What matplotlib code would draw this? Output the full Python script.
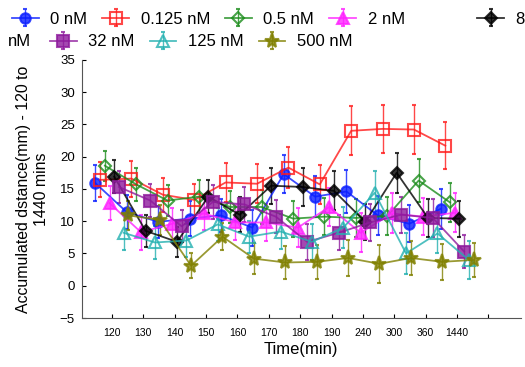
import matplotlib.pyplot as plt
import numpy as np

plt.rcParams['font.family'] = ['Liberation Sans', 'DejaVu Sans']

times = ['120', '130', '140', '150', '160', '170', '180', '190', '240', '300', '360', '1440']

labels = ['0 nM', '0.125 nM', '0.5 nM', '2 nM', '8 nM', '32 nM', '125 nM', '500 nM']

nm0 = [15.9, 11.4, 9.9, 10.4, 10.9, 9.0, 17.3, 13.8, 14.6, 10.9, 9.6, 11.9]
nm0125 = [16.4, 16.6, 14.1, 13.3, 16.0, 15.8, 18.3, 15.7, 24.0, 24.3, 24.2, 21.7]
nm05 = [18.6, 15.7, 13.2, 13.8, 12.2, 12.2, 10.4, 10.7, 10.5, 10.8, 16.3, 12.9]
nm2 = [12.8, 8.3, 9.6, 11.2, 9.8, 9.8, 9.0, 12.2, 8.2, 11.2, 10.7, 11.3]
nm8 = [16.9, 8.5, 6.8, 13.8, 11.0, 15.5, 15.3, 14.7, 9.9, 17.5, 10.5, 10.4]
nm32 = [15.3, 13.2, 9.2, 13.0, 12.6, 10.7, 6.8, 8.2, 9.8, 11.0, 10.5, 5.3]
nm125 = [8.2, 6.7, 7.0, 9.5, 7.6, 8.4, 6.8, 9.0, 14.4, 5.0, 8.1, 4.0]
nm500 = [10.9, 10.2, 3.1, 7.6, 4.2, 3.6, 3.7, 4.3, 3.4, 4.3, 3.7, 4.0]

err0 = [2.8, 2.6, 2.5, 2.7, 2.6, 2.8, 3.0, 3.2, 3.3, 3.0, 2.9, 3.1]
err0125 = [2.7, 2.8, 2.6, 2.5, 3.0, 3.0, 3.2, 3.0, 3.8, 3.7, 3.8, 3.6]
err05 = [2.3, 2.5, 2.4, 2.6, 2.5, 2.7, 2.8, 2.9, 3.0, 3.0, 3.4, 3.0]
err2 = [2.6, 2.7, 2.5, 2.6, 2.7, 2.8, 3.0, 2.9, 3.0, 3.1, 2.9, 3.0]
err8 = [2.6, 2.5, 2.3, 2.6, 2.7, 2.8, 2.9, 3.0, 2.8, 3.1, 3.0, 2.8]
err32 = [2.5, 2.6, 2.5, 2.6, 2.7, 2.6, 2.8, 2.7, 2.9, 2.8, 3.0, 2.6]
err125 = [2.7, 2.6, 2.5, 2.6, 2.5, 2.7, 2.8, 3.2, 3.4, 3.2, 3.0, 2.9]
err500 = [2.2, 2.3, 1.9, 2.1, 2.4, 2.5, 2.6, 2.8, 2.9, 2.7, 2.8, 2.6]

values = [nm0, nm0125, nm05, nm2, nm8, nm32, nm125, nm500]
errors = [err0, err0125, err05, err2, err8, err32, err125, err500]
colors = ['#0a1eff', '#ff1a1a', '#1a8c1a', '#ff22ff', '#000000', '#8e1a9c', '#22b0b0', '#808000']
markers = ['o', 's', 'D', '^', 'D', 's', '^', '*']
msizes = [7.5, 8, 6, 8, 6, 8, 8, 11]
filled = [True, False, False, True, True, True, False, True]

fig = plt.figure(figsize=(5.25, 3.67), dpi=100)
ax = fig.add_axes([0.156, 0.1335, 0.836, 0.7035])

x = np.arange(1, len(times) + 1)
handles = []
for i in range(8):
    off = (i - 3.5) * 0.15
    h = ax.errorbar(x + off, values[i], yerr=errors[i], color=colors[i],
                    marker=markers[i], markersize=msizes[i],
                    mfc=colors[i] if filled[i] else 'none', mec=colors[i],
                    mew=1.5, lw=1.3, elinewidth=1.0, capsize=1.5, capthick=1.0,
                    alpha=0.8, label=labels[i])
    handles.append(h)

ax.set_xlim(0.045, 14.03)
ax.set_ylim(-5, 35)
ax.set_xticks(np.arange(1, 14))
ax.set_xticklabels(times + [''])
ax.set_yticks(np.arange(-5, 36, 5))
ax.tick_params(axis='x', direction='in', labelsize=7.5, pad=7, length=3)
ax.tick_params(axis='y', direction='in', labelsize=9.5, pad=5, length=3)
ax.spines['top'].set_visible(False)
ax.spines['right'].set_visible(False)
ax.spines['left'].set_color('#555555')
ax.spines['bottom'].set_color('#555555')

ax.set_xlabel('Time(min)', fontsize=12, labelpad=3)
ax.set_ylabel('Accumulated dstance(mm) - 120 to\n1440 mins', fontsize=11.4, labelpad=8)

leg_kw = dict(frameon=False, fontsize=12, handlelength=1.6, handletextpad=0.7,
              columnspacing=0.9, borderpad=0, borderaxespad=0)
fig.legend(handles[:4], labels[:4], loc='center left', ncol=4,
           bbox_to_anchor=(0.023, 0.948), **leg_kw)
fig.legend([handles[4]], ['8'], loc='center left', ncol=1,
           bbox_to_anchor=(0.909, 0.948), **leg_kw)
fig.legend(handles[5:], labels[5:], loc='center left', ncol=3,
           bbox_to_anchor=(0.095, 0.886), **leg_kw)
fig.text(0.015, 0.886, 'nM', fontsize=12, va='center')

fig.savefig('out.png', dpi=100)
